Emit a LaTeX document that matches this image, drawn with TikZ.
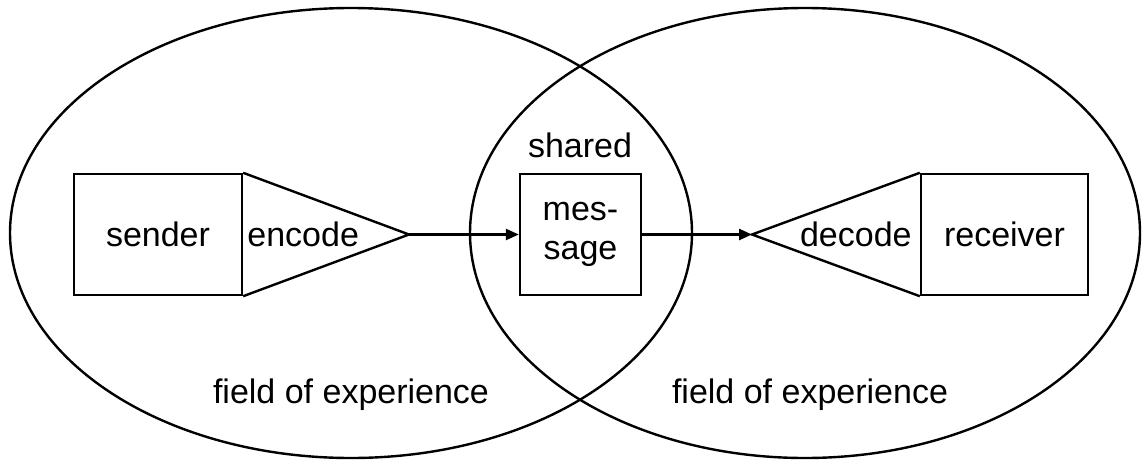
\documentclass[tikz,border=0pt]{standalone}
\usepackage{fontspec}
\setmainfont{Liberation Sans}
\usetikzlibrary{positioning,shapes.geometric,arrows.meta}

\tikzset{
  field/.style={draw, ellipse, inner sep=0pt, outer sep=0pt, minimum height=450pt},
  block/.style={draw, inner sep=0pt, minimum height=121pt, align=center},
  txt/.style={inner sep=1pt},
  flow/.style={-{Triangle[length=13pt,width=11pt]}},
}

\begin{document}
\begin{tikzpicture}[x=1pt, y=-1pt, line width=2.4pt,
    font=\fontsize{34}{39}\selectfont]
    \useasboundingbox (0,0) rectangle (1145,463);

    % the two fields of experience
    \node[field, minimum width=682pt] (leftfield) at (351,233) {};
    \node[field, minimum width=670pt] (rightfield) at (805,233) {};

    % sender side
    \node[block, minimum width=168pt] (sender) at (158,234.5) {sender};
    \coordinate (enctip) at (409,234.5);
    \draw (sender.north east) -- (enctip) -- (sender.south east);
    \node[txt, anchor=west] (encode) at ([xshift=2pt]sender.east) {encode};

    % shared message
    \node[block, minimum width=121pt] (message) at (580.5,234.5) {mes-\\sage};
    \node[txt] (shared) at (580,145) {shared};

    % receiver side
    \node[block, minimum width=167pt] (receiver) at (1004.5,234.5) {receiver};
    \coordinate (dectip) at (752,234.5);
    \draw (receiver.north west) -- (dectip) -- (receiver.south west);
    \node[txt, anchor=east] (decode) at ([xshift=-6pt]receiver.west) {decode};

    \draw[flow] (enctip) -- (message.west);
    \draw[flow] (message.east) -- (dectip);

    % labels
    \node[txt] (leftlabel) at (351,395) {field of experience};
    \node[txt] (rightlabel) at (810,395) {field of experience};
\end{tikzpicture}
\end{document}
